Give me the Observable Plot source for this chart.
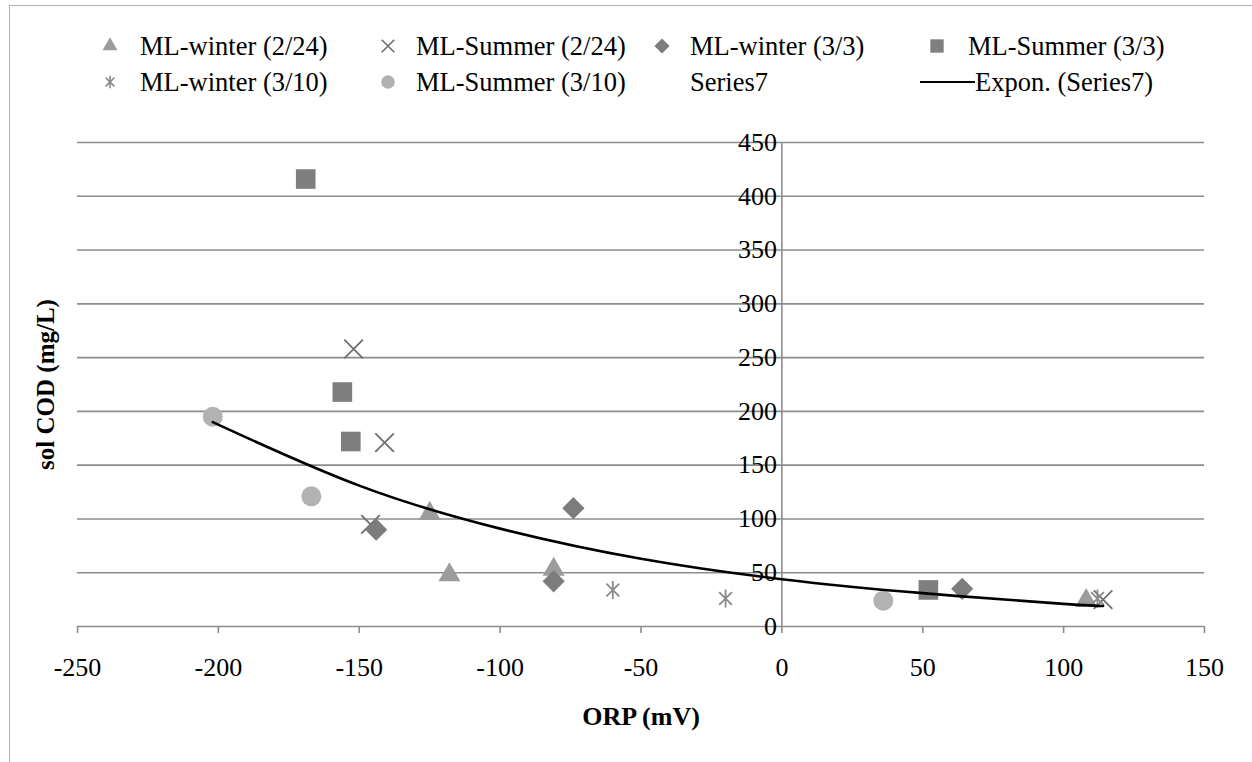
<!DOCTYPE html>
<html>
<head>
<meta charset="utf-8">
<script src="https://cdn.jsdelivr.net/npm/d3@7"></script>
<script src="https://cdn.jsdelivr.net/npm/@observablehq/plot@0.6"></script>
<style>
  body { margin: 0; background: #fff; }
  #page { position: relative; width: 1252px; height: 762px; overflow: hidden;
          font-family: "Liberation Serif", "Tinos", "Times New Roman", "DejaVu Serif", serif; background: #fff; }
  #frame { position: absolute; left: 9px; top: 5px; right: -10px; bottom: -10px;
           border-left: 1.5px solid #b0b0b0; border-top: 1.5px solid #b0b0b0; }
  #legend { position: absolute; left: 0; top: 0; }
  #chart { position: absolute; left: 0; top: 110px; }
</style>
</head>
<body>
<div id="page">
  <div id="frame"></div>
  <svg id="legend" width="1252" height="110"></svg>
  <div id="chart"></div>
</div>
<script>
// ---- data ----
const xTicks = [-250, -200, -150, -100, -50, 0, 50, 100, 150];
const yTicks = [0, 50, 100, 150, 200, 250, 300, 350, 400, 450];

const seriesNames = ["ML-winter (2/24)", "ML-Summer (2/24)", "ML-winter (3/3)", "ML-Summer (3/3)",
                     "ML-winter (3/10)", "ML-Summer (3/10)", "Series7", "Expon. (Series7)"];

const winter224X = [-125, -118, -81, 108];
const winter224Y = [105, 48, 53, 24];

const summer224X = [-152, -141, -146, 114];
const summer224Y = [258, 171, 95, 25];

const winter33X = [-144, -74, -81, 64];
const winter33Y = [90, 110, 42, 35];

const summer33X = [-169, -156, -153, 52];
const summer33Y = [416, 218, 172, 34];

const winter310X = [-60, -20, 112];
const winter310Y = [34, 26, 26];

const summer310X = [-202, -167, 36];
const summer310Y = [195, 121, 24];

// exponential trend line of Series7
const trendX = [-202, -150, -100, -50, 0, 50, 100, 114];
const trendY = [190, 131, 91, 63, 44, 31, 21, 19];

// ---- build tables ----
const pts = (xs, ys) => xs.map((x, i) => ({x, y: ys[i]}));
const trend = pts(trendX, trendY);

// Excel-style star marker: vertical bar + diagonal cross
const excelStar = {
  draw(context, size) {
    const r = Math.sqrt(size) * 0.6;
    const d = r * Math.SQRT1_2;
    context.moveTo(0, -r); context.lineTo(0, r);
    context.moveTo(-d, -d); context.lineTo(d, d);
    context.moveTo(-d, d); context.lineTo(d, -d);
  }
};

const styles = [
  {name: seriesNames[0], data: pts(winter224X, winter224Y), symbol: d3.symbolTriangle2, fill: "#9c9c9c", r: 10.5},
  {name: seriesNames[1], data: pts(summer224X, summer224Y), symbol: d3.symbolTimes, stroke: "#6e6e6e", r: 8.5},
  {name: seriesNames[2], data: pts(winter33X, winter33Y), symbol: d3.symbolDiamond2, fill: "#7c7c7c", r: 10},
  {name: seriesNames[3], data: pts(summer33X, summer33Y), symbol: d3.symbolSquare2, fill: "#7f7f7f", r: 12.5},
  {name: seriesNames[4], data: pts(winter310X, winter310Y), symbol: excelStar, stroke: "#8a8a8a", r: 8.5},
  {name: seriesNames[5], data: pts(summer310X, summer310Y), symbol: d3.symbolCircle, fill: "#b2b2b2", r: 10}
];

const gridColor = "#8c8c8c";
const fontFamily = "Liberation Serif, Tinos, Times New Roman, DejaVu Serif, serif";

const dotMarks = styles.map(s => Plot.dot(s.data, {
  x: "x", y: "y", symbol: s.symbol, r: s.r,
  fill: s.fill || "none", stroke: s.stroke || "none", strokeWidth: s.stroke ? 1.8 : 0
}));

const chart = Plot.plot({
  width: 1252, height: 652,
  marginLeft: 77, marginRight: 48, marginTop: 32, marginBottom: 136,
  x: {domain: [-250, 150]},
  y: {domain: [0, 450], axis: null},
  style: {fontFamily, fontSize: "26px", color: "#000", background: "transparent", overflow: "visible"},
  marks: [
    Plot.ruleY(yTicks, {stroke: gridColor, strokeWidth: 1.6}),
    Plot.ruleX([0], {y1: 0, y2: 450, stroke: gridColor, strokeWidth: 1.6}),
    Plot.axisX(xTicks, {tickSize: 7, tickPadding: 24, stroke: gridColor, strokeWidth: 1.6,
                        fontSize: 26, label: null, tickFormat: d => String(d), fill: "#000"}),
    Plot.text(yTicks, {x: 0, y: d => d, text: d => String(d), dx: -5, textAnchor: "end", fontSize: 26, fill: "#000"}),
    ...dotMarks,
    Plot.line(trend, {x: "x", y: "y", curve: "natural", stroke: "#000", strokeWidth: 2.6}),
    Plot.text(["ORP (mV)"], {frameAnchor: "bottom", dy: 98, fontWeight: "bold", fontSize: 26, fill: "#000"}),
    Plot.text(["sol COD (mg/L)"], {frameAnchor: "left", dx: -32, rotate: -90, textAnchor: "middle",
                                   fontWeight: "bold", fontSize: 25, fill: "#000"})
  ]
});
document.getElementById("chart").appendChild(chart);

// ---- legend ----
const legend = d3.select("#legend");
const legendSlots = [
  {sx: 110, tx: 140, y: 46}, {sx: 388, tx: 416, y: 46}, {sx: 662, tx: 690, y: 46}, {sx: 937, tx: 968, y: 46},
  {sx: 110, tx: 140, y: 82}, {sx: 388, tx: 416, y: 82}, {sx: 662, tx: 690, y: 82}, {sx: 937, tx: 975, y: 82}
];
seriesNames.forEach((name, i) => {
  const slot = legendSlots[i];
  const s = styles[i];
  if (s) {
    const rr = s.r * 0.68;
    legend.append("path")
      .attr("transform", `translate(${slot.sx},${slot.y})`)
      .attr("d", d3.symbol(s.symbol, Math.PI * rr * rr)())
      .attr("fill", s.fill || "none")
      .attr("stroke", s.stroke || "none")
      .attr("stroke-width", s.stroke ? 1.6 : 0);
  } else if (i === 7) {
    legend.append("line").attr("x1", slot.tx - 55).attr("x2", slot.tx).attr("y1", slot.y).attr("y2", slot.y)
      .attr("stroke", "#000").attr("stroke-width", 2.2);
  }
  legend.append("text")
    .attr("x", slot.tx).attr("y", slot.y)
    .attr("dominant-baseline", "central")
    .style("font-family", fontFamily).attr("font-size", 26.5)
    .text(name);
});
</script>
</body>
</html>
